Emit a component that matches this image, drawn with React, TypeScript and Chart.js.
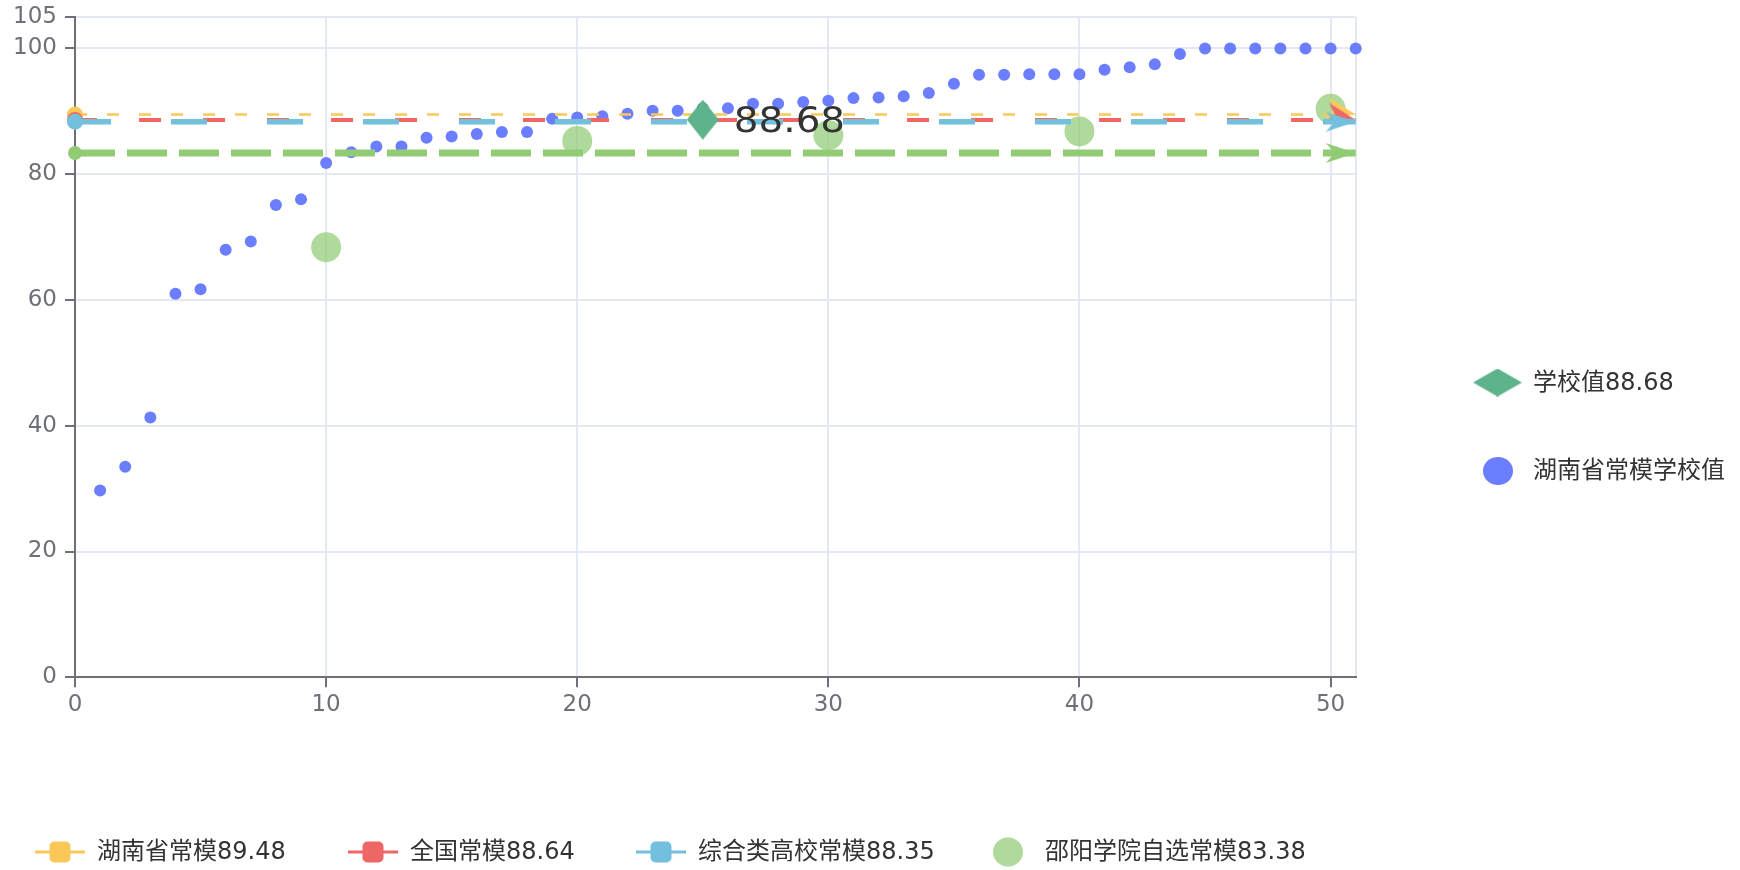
import React, { useEffect, useRef } from 'react';
import { Chart, registerables } from 'chart.js';

Chart.register(...registerables);

// ---------- data ----------
const xTickValues = [0, 10, 20, 30, 40, 50];
const xMax = 51;
const yTickValues = [0, 20, 40, 60, 80, 100, 105];
const yMax = 105;

const provinceSeriesName = '湖南省常模学校值';
const provinceRanks = [
  1, 2, 3, 4, 5, 6, 7, 8, 9, 10, 11, 12, 13, 14, 15, 16, 17, 18, 19, 20, 21, 22, 23, 24, 25, 26,
  27, 28, 29, 30, 31, 32, 33, 34, 35, 36, 37, 38, 39, 40, 41, 42, 43, 44, 45, 46, 47, 48, 49, 50, 51,
];
const provinceSchoolValues = [
  29.7, 33.5, 41.3, 61.0, 61.7, 68.0, 69.3, 75.1, 76.0, 81.8, 83.5, 84.4, 84.4, 85.8, 86.0, 86.4,
  86.7, 86.7, 88.8, 89.0, 89.2, 89.6, 90.1, 90.1, 90.5, 90.5, 91.2, 91.2, 91.5, 91.7, 92.1, 92.2,
  92.4, 92.9, 94.4, 95.8, 95.8, 95.9, 95.9, 95.9, 96.6, 97.0, 97.5, 99.1, 100, 100, 100, 100, 100,
  100, 100,
];

const normNames = ['湖南省常模', '全国常模', '综合类高校常模', '邵阳学院自选常模'];
const normValues = [89.48, 88.64, 88.35, 83.38];

const customNormX = [10, 20, 30, 40, 50];
const customNormY = [68.4, 85.3, 86.2, 86.8, 90.4];

const schoolName = '学校值';
const schoolX = 25;
const schoolValue = 88.68;

// ---------- styles ----------
const normColors = ['#fac858', '#ee6666', '#73c0de', '#91cc75'];
const normWidths = [2.5, 4, 5.5, 7];
const normDashes = [[12, 20], [22, 42], [36, 60], [40, 12]];
const arrowTilt = [14, 14, 0, 0];
const startRadius = [8, 8, 8, 7];
const dotColor = '#6a7eff';
const customColor = 'rgba(145,204,117,0.72)';
const diamondColor = '#5db38c';
const axisColor = '#6e7079';
const gridColor = '#e4e8f2';
const textColor = '#333';
const tickFont = { family: '"DejaVu Sans", "Noto Sans CJK SC", sans-serif', size: 23 };
const legendFont = '24px "DejaVu Sans", "Noto Sans CJK SC", sans-serif';

function makeDiamond(w: number, h: number, color: string) {
  const c = document.createElement('canvas');
  c.width = w;
  c.height = h;
  const g = c.getContext('2d')!;
  g.fillStyle = color;
  g.beginPath();
  g.moveTo(w / 2, 0);
  g.lineTo(w, h / 2);
  g.lineTo(w / 2, h);
  g.lineTo(0, h / 2);
  g.closePath();
  g.fill();
  return c;
}

function makeArrow(len: number, wid: number, color: string) {
  const c = document.createElement('canvas');
  c.width = len * 2;
  c.height = wid;
  const g = c.getContext('2d')!;
  g.fillStyle = color;
  g.beginPath();
  g.moveTo(len, wid / 2);
  g.lineTo(0, 0);
  g.lineTo(len * 0.3, wid / 2);
  g.lineTo(0, wid);
  g.closePath();
  g.fill();
  return c;
}

export default function App() {
  const ref = useRef<HTMLCanvasElement>(null);

  useEffect(() => {
    document.body.style.margin = '0';
    const canvas = ref.current!;
    const diamondPoint = makeDiamond(32, 40, diamondColor);
    const diamondLegend = makeDiamond(49, 28, diamondColor);

    const lineOrder = [2, 1, 0, 3];
    const lineDatasets = lineOrder.map((i) => ({
      type: 'scatter' as const,
      label: normNames[i] + normValues[i].toFixed(2),
      data: [
        { x: 0, y: normValues[i] },
        { x: xMax, y: normValues[i] },
      ],
      showLine: true,
      borderColor: normColors[i],
      borderWidth: normWidths[i],
      borderDash: normDashes[i],
      backgroundColor: normColors[i],
      pointBackgroundColor: normColors[i],
      pointBorderWidth: 0,
      pointRadius: startRadius[i],
      pointStyle: ['circle', makeArrow(30, 20, normColors[i])] as any,
      pointRotation: [0, arrowTilt[i]],
      clip: false as any,
    }));

    const chart = new Chart(canvas, {
      type: 'scatter',
      data: {
        datasets: [
          {
            label: schoolName + schoolValue.toFixed(2),
            data: [{ x: schoolX, y: schoolValue }],
            pointStyle: diamondPoint as any,
            pointRadius: 16,
            clip: false as any,
          },
          ...lineDatasets,
          {
            label: provinceSeriesName,
            data: provinceRanks.map((r, i) => ({ x: r, y: provinceSchoolValues[i] })),
            backgroundColor: dotColor,
            pointBackgroundColor: dotColor,
            pointBorderWidth: 0,
            pointRadius: 6,
            clip: false as any,
          },
          {
            label: normNames[3] + normValues[3].toFixed(2),
            data: customNormX.map((x, i) => ({ x, y: customNormY[i] })),
            backgroundColor: customColor,
            pointBackgroundColor: customColor,
            pointBorderWidth: 0,
            pointRadius: 15,
            clip: false as any,
          },
        ] as any,
      },
      options: {
        animation: false,
        responsive: false,
        events: [],
        layout: { padding: { left: 0, top: 16, right: 384.3, bottom: 132.7 } },
        plugins: {
          legend: { display: false },
          tooltip: { enabled: false },
        },
        scales: {
          x: {
            type: 'linear',
            min: 0,
            max: xMax,
            afterBuildTicks: (s: any) => {
              s.ticks = [...xTickValues, xMax].map((v) => ({ value: v }));
            },
            afterFit: (s: any) => {
              s.height = 60;
              s.paddingLeft = 0;
              s.paddingRight = 0;
            },
            ticks: {
              autoSkip: false,
              maxRotation: 0,
              padding: 4,
              color: axisColor,
              font: tickFont,
              callback: (v: any) => (xTickValues.includes(v) ? String(v) : ''),
            },
            grid: {
              color: gridColor,
              lineWidth: 2,
              tickLength: 10,
              tickWidth: 2,
              tickColor: (c: any) => (c.tick && xTickValues.includes(c.tick.value) ? axisColor : 'rgba(0,0,0,0)'),
            },
            border: { color: axisColor, width: 2 },
          },
          y: {
            type: 'linear',
            min: 0,
            max: yMax,
            afterBuildTicks: (s: any) => {
              s.ticks = yTickValues.map((v) => ({ value: v }));
            },
            afterFit: (s: any) => {
              s.width = 75;
              s.paddingTop = 0;
              s.paddingBottom = 0;
            },
            ticks: {
              autoSkip: false,
              padding: 8,
              color: axisColor,
              font: tickFont,
              callback: (v: any) => String(v),
            },
            grid: {
              color: gridColor,
              lineWidth: 2,
              tickLength: 10,
              tickWidth: 2,
              tickColor: axisColor,
            },
            border: { color: axisColor, width: 2 },
          },
        },
      },
      plugins: [
        {
          id: 'overlay',
          afterDatasetsDraw(ch: any) {
            const { ctx, scales } = ch;
            const px = scales.x.getPixelForValue(schoolX);
            const py = scales.y.getPixelForValue(schoolValue);
            ctx.save();
            ctx.translate(px + 31, py + 3);
            ctx.scale(1.08, 1);
            ctx.font = '36px "DejaVu Sans", sans-serif';
            ctx.fillStyle = textColor;
            ctx.textBaseline = 'middle';
            ctx.textAlign = 'left';
            ctx.fillText(schoolValue.toFixed(2), 0, 0);
            ctx.restore();
          },
          afterDraw(ch: any) {
            const ctx: CanvasRenderingContext2D = ch.ctx;
            ctx.save();
            ctx.font = legendFont;
            ctx.fillStyle = textColor;
            ctx.textBaseline = 'middle';
            ctx.textAlign = 'left';

            // right legend
            ctx.drawImage(diamondLegend, 1497.5 - 24.5, 382.5 - 14);
            ctx.fillStyle = textColor;
            ctx.fillText(schoolName + schoolValue.toFixed(2), 1533, 384);
            ctx.fillStyle = dotColor;
            ctx.beginPath();
            ctx.ellipse(1498, 471, 15, 14, 0, 0, Math.PI * 2);
            ctx.fill();
            ctx.fillStyle = textColor;
            ctx.fillText(provinceSeriesName, 1533, 472);

            // bottom legend
            const slots = [35, 348, 636, 983];
            const ly = 852;
            for (let i = 0; i < 4; i++) {
              const sx = slots[i];
              if (i < 3) {
                ctx.strokeStyle = normColors[i];
                ctx.lineWidth = 3;
                ctx.beginPath();
                ctx.moveTo(sx, ly);
                ctx.lineTo(sx + 50, ly);
                ctx.stroke();
                ctx.fillStyle = normColors[i];
                ctx.beginPath();
                (ctx as any).roundRect(sx + 25 - 10.5, ly - 10.5, 21, 21, 5);
                ctx.fill();
              } else {
                ctx.fillStyle = customColor;
                ctx.beginPath();
                ctx.ellipse(sx + 25, ly, 15, 14.5, 0, 0, Math.PI * 2);
                ctx.fill();
              }
              ctx.fillStyle = textColor;
              ctx.fillText(normNames[i] + normValues[i].toFixed(2), sx + 62, ly + 1);
            }
            ctx.restore();
          },
        },
      ],
    } as any);

    return () => chart.destroy();
  }, []);

  return (
    <div style={{ position: 'fixed', left: 0, top: 0, width: 1740, height: 870, background: '#fff' }}>
      <canvas ref={ref} width={1740} height={870} style={{ display: 'block' }} />
    </div>
  );
}
